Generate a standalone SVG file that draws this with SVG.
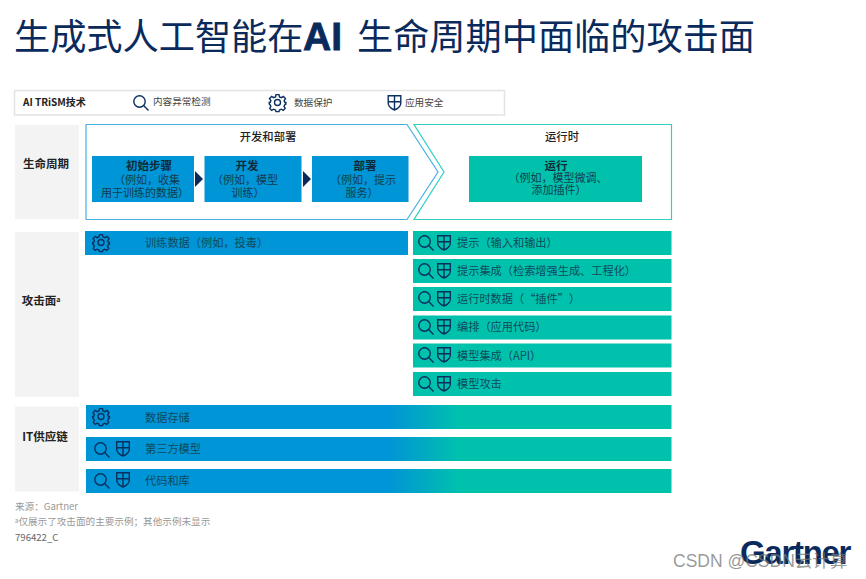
<svg xmlns="http://www.w3.org/2000/svg" width="866" height="579" viewBox="0 0 866 579">
<style>
text{font-family:"Noto Sans CJK SC","Liberation Sans",sans-serif;fill:#1a3a4a;text-spacing-trim:space-all}
.l{font-size:9.6px;fill:#444}
.lab{font-size:11.5px;font-weight:700;fill:#222;text-anchor:middle}
.hd{font-size:11.3px;font-weight:500;fill:#222;text-anchor:middle}
.bx{font-size:11px;fill:#123c50;text-anchor:middle}
.bxb{font-size:11.5px;font-weight:700;fill:#102a3a;text-anchor:middle}
.r{font-size:11.2px;fill:#0f4a5c}
.f{font-size:9.6px;fill:#999}
.side{fill:#f3f3f3}
.blue{fill:#0095d6}
.teal{fill:#00c2ac}
.grad{fill:url(#g)}
.ic{fill:none;stroke:#0b2f5e;stroke-width:1.4}
</style>
<defs>
<linearGradient id="g" gradientUnits="userSpaceOnUse" x1="86" y1="0" x2="671" y2="0">
<stop offset="0.52" stop-color="#0095d6"/><stop offset="0.64" stop-color="#00c2ac"/>
</linearGradient>
<g id="mag" class="ic"><circle cx="6.500" cy="6.500" r="5.700"/><path d="M10.600 10.600L15.500 15.500"/></g>
<g id="shield" class="ic"><path d="M0.700 0.700H13.300V8C13.300 11.500 10 13.800 7 15C4 13.800 0.700 11.500 0.700 8ZM7 0.700V15M0.700 6.800H13.300"/></g>
<g id="gear" class="ic"><circle cx="8.500" cy="8.500" r="3"/><path d="M7 0.600H10L10.500 2.900L12.400 3.700L14.400 2.400L16.500 4.600L15.100 6.600L15.900 8.500L16.900 8.500V10L15.900 10.600L15 12.400L16.200 14.400L14.200 16.400L12.300 15.200L10.400 16L10 17.600H7L6.500 16L4.600 15.200L2.700 16.400L0.700 14.400L1.900 12.400L1 10.600L0.200 10V8.500L1.100 8.500L1.900 6.600L0.500 4.600L2.600 2.400L4.600 3.700L6.500 2.900Z"/></g>
</defs>
<rect width="866" height="579" fill="#fff"/>
<text x="14" y="50" style="font-size:36.200px;fill:#0b2a5c">生成式人工智能在<tspan x="303" style="font-family:'Liberation Sans',sans-serif;font-weight:700;font-size:39px;stroke:#0b2a5c;stroke-width:.8">AI</tspan><tspan x="357">生命周期中面临的攻击面</tspan></text>

<g id="legend">
<rect x="14.500" y="90.500" width="490" height="24.500" fill="#fff" stroke="#e3e3e3" stroke-width="1.500"/>
<text x="23" y="106" style="font-size:10px;font-weight:700;fill:#222">AI TRiSM技术</text>
<use href="#mag" x="133" y="95"/><text x="153" y="104.500" class="l">内容异常检测</text>
<use href="#gear" x="269" y="94"/><text x="294" y="106" class="l">数据保护</text>
<use href="#shield" x="387.500" y="95"/><text x="405" y="106" class="l">应用安全</text>
</g>

<g id="lifecycle-label"><rect class="side" x="15" y="125" width="64" height="94"/><text class="lab" x="46" y="168">生命周期</text></g>
<g id="dev-deploy">
<path d="M86 124.500H407L438 172L407 219.500H86Z" fill="#fff" stroke="#45b0e6" stroke-width="1.200"/>
<text class="hd" x="268" y="141">开发和部署</text>
</g>
<g id="runtime">
<path d="M414 124.500H671.500V219.500H414L444 172Z" fill="#fff" stroke="#30cfc0" stroke-width="1.200"/>
<text class="hd" x="562" y="141">运行时</text>
</g>
<g id="step-init"><rect class="blue" x="92" y="156" width="102" height="46"/>
<text class="bxb" x="149" y="170">初始步骤</text><text class="bx" x="147" y="184">（例如，收集</text><text class="bx" x="145" y="197">用于训练的数据）</text></g>
<g id="step-dev"><rect class="blue" x="204.500" y="156" width="97" height="46"/>
<text class="bxb" x="247" y="170">开发</text><text class="bx" x="245" y="184">（例如，模型</text><text class="bx" x="248" y="197">训练）</text></g>
<g id="step-deploy"><rect class="blue" x="312" y="156" width="96.500" height="46"/>
<text class="bxb" x="365" y="170">部署</text><text class="bx" x="363" y="184">（例如，提示</text><text class="bx" x="362" y="197">服务）</text></g>
<g id="step-run"><rect class="teal" x="469" y="156" width="173" height="46"/>
<text class="bxb" x="556" y="170">运行</text><text class="bx" x="558" y="181.500">（例如，模型微调、</text><text class="bx" x="559" y="194">添加插件）</text></g>
<g id="connectors" fill="#0b2a5c">
<path d="M195 171L203 179L195 187Z"/><path d="M303 171L311 179L303 187Z"/>
</g>

<g id="attack-label"><rect class="side" x="15" y="232" width="64" height="165"/><text class="lab" x="41" y="305">攻击面<tspan style="font-size:7px" dy="-3">a</tspan></text></g>
<g id="train-data"><rect class="blue" x="85" y="231" width="323" height="24"/><use href="#gear" x="92.500" y="234"/><text class="r" x="145" y="246.500">训练数据（例如，投毒）</text></g>
<g id="a1"><rect class="teal" x="413" y="231" width="258.500" height="24"/><use href="#mag" x="418" y="235"/><use href="#shield" x="437" y="235"/><text class="r" x="457" y="246.500">提示（输入和输出）</text></g>
<g id="a2"><rect class="teal" x="413" y="259" width="258.500" height="24"/><use href="#mag" x="418" y="263"/><use href="#shield" x="437" y="263"/><text class="r" x="457" y="274.500">提示集成（检索增强生成、工程化）</text></g>
<g id="a3"><rect class="teal" x="413" y="287" width="258.500" height="24"/><use href="#mag" x="418" y="291"/><use href="#shield" x="437" y="291"/><text class="r" x="457" y="303" style="font-feature-settings:'fwid'">运行时数据（“插件”）</text></g>
<g id="a4"><rect class="teal" x="413" y="315.500" width="258.500" height="24"/><use href="#mag" x="418" y="319"/><use href="#shield" x="437" y="319"/><text class="r" x="457" y="331">编排（应用代码）</text></g>
<g id="a5"><rect class="teal" x="413" y="343.500" width="258.500" height="24"/><use href="#mag" x="418" y="347"/><use href="#shield" x="437" y="347"/><text class="r" x="457" y="359.500">模型集成（API）</text></g>
<g id="a6"><rect class="teal" x="413" y="372" width="258.500" height="24"/><use href="#mag" x="418" y="376"/><use href="#shield" x="437" y="376"/><text class="r" x="457" y="388">模型攻击</text></g>

<g id="it-label"><rect class="side" x="15" y="406.500" width="64" height="85"/><text class="lab" x="45" y="441">IT供应链</text></g>
<g id="s1"><rect class="grad" x="86" y="405" width="585.500" height="24"/><use href="#gear" x="92.500" y="408"/><text class="r" x="145" y="422">数据存储</text></g>
<g id="s2"><rect class="grad" x="86" y="437" width="585.500" height="24"/><use href="#mag" x="94" y="442"/><use href="#shield" x="116" y="441"/><text class="r" x="145" y="453">第三方模型</text></g>
<g id="s3"><rect class="grad" x="86" y="469" width="585.500" height="24"/><use href="#mag" x="94" y="473"/><use href="#shield" x="116" y="472"/><text class="r" x="145" y="485">代码和库</text></g>

<g id="footer">
<text class="f" x="15" y="510">来源：Gartner</text>
<text class="f" x="15" y="525"><tspan style="font-size:6px" dy="-2">a</tspan><tspan dy="2">仅展示了攻击面的主要示例；其他示例未显示</tspan></text>
<text class="f" x="15" y="541" style="fill:#666">796422_C</text>
</g>
<g id="logo">
<text x="740" y="564" style="font-family:'Liberation Sans',sans-serif;font-weight:700;font-size:33px;letter-spacing:-1.300px;fill:#0b2a5c">Gartner</text>
<text x="673" y="567" style="font-family:'Liberation Sans','Noto Sans CJK SC',sans-serif;font-size:17.500px;fill:#777;fill-opacity:.75">CSDN @CSDN云计算</text>
</g>
</svg>
